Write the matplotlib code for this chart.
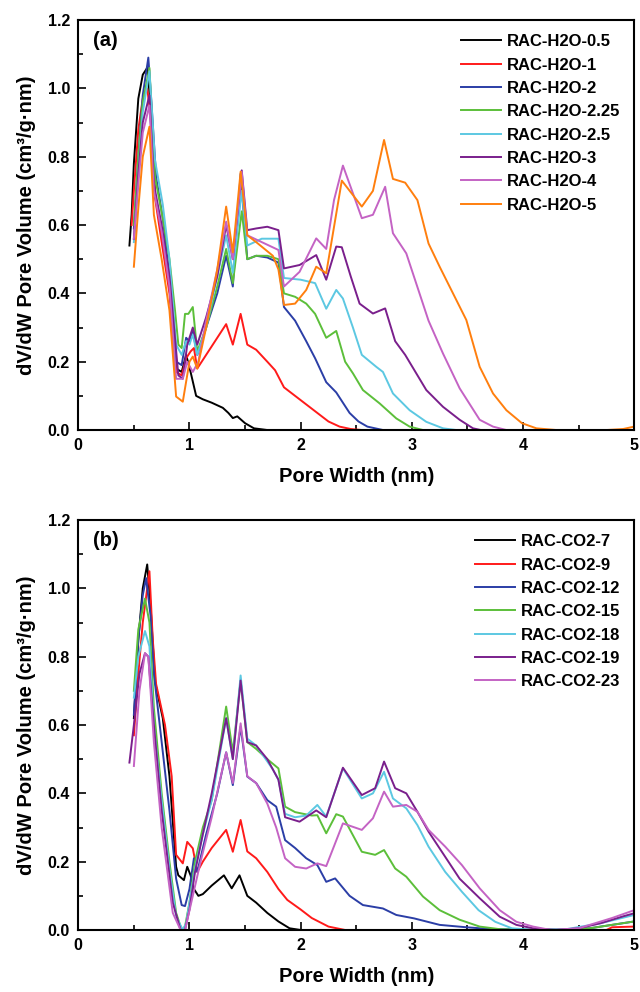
import matplotlib
matplotlib.use("Agg")
import matplotlib.pyplot as plt
from matplotlib.ticker import MultipleLocator

plt.rcParams['font.family'] = ['Liberation Sans', 'DejaVu Sans']
plt.rcParams['font.weight'] = 'bold'

# ---------------- Panel (a) data ----------------
labels_a = ["RAC-H2O-0.5", "RAC-H2O-1", "RAC-H2O-2", "RAC-H2O-2.25",
            "RAC-H2O-2.5", "RAC-H2O-3", "RAC-H2O-4", "RAC-H2O-5"]

a_x_05 = [0.46,0.48,0.5,0.54,0.58,0.62,0.65,0.69,0.75,0.82,0.88,0.93,0.97,1.01,1.06,1.12,1.2,1.3,1.35,1.39,1.43,1.5,1.58,1.7]
a_y_05 = [0.54,0.63,0.78,0.97,1.04,1.06,0.95,0.69,0.58,0.42,0.18,0.17,0.22,0.17,0.10,0.09,0.08,0.065,0.05,0.035,0.04,0.02,0.005,0.0]

a_x_1 = [0.48,0.5,0.54,0.58,0.62,0.65,0.69,0.75,0.82,0.88,0.93,0.97,1.01,1.04,1.07,1.15,1.25,1.33,1.39,1.46,1.52,1.6,1.7,1.77,1.85,1.95,2.05,2.15,2.25,2.35,2.45,2.55]
a_y_1 = [0.60,0.70,0.88,0.97,1.0,0.92,0.68,0.55,0.40,0.17,0.16,0.21,0.23,0.24,0.18,0.22,0.27,0.31,0.25,0.34,0.25,0.235,0.2,0.175,0.125,0.10,0.075,0.05,0.025,0.01,0.003,0.0]

a_x_2 = [0.5,0.54,0.58,0.63,0.66,0.7,0.76,0.82,0.88,0.93,0.97,1.0,1.03,1.07,1.15,1.25,1.33,1.39,1.46,1.52,1.6,1.7,1.8,1.85,1.95,2.05,2.13,2.23,2.32,2.44,2.52,2.6,2.74]
a_y_2 = [0.59,0.8,0.98,1.09,0.95,0.74,0.62,0.45,0.2,0.19,0.27,0.26,0.29,0.22,0.30,0.40,0.51,0.42,0.75,0.5,0.51,0.505,0.49,0.36,0.32,0.26,0.21,0.14,0.11,0.05,0.025,0.01,0.0]

a_x_225 = [0.5,0.54,0.58,0.64,0.69,0.76,0.82,0.87,0.9,0.93,0.96,0.99,1.03,1.07,1.15,1.25,1.33,1.39,1.47,1.52,1.6,1.7,1.8,1.85,1.95,2.05,2.13,2.23,2.32,2.4,2.47,2.56,2.71,2.86,2.98,3.1]
a_y_225 = [0.6,0.8,0.96,1.06,0.74,0.62,0.5,0.35,0.25,0.24,0.34,0.34,0.36,0.23,0.30,0.42,0.53,0.43,0.64,0.5,0.51,0.51,0.5,0.4,0.39,0.37,0.34,0.27,0.29,0.2,0.166,0.117,0.078,0.034,0.01,0.0]

a_x_25 = [0.5,0.54,0.58,0.64,0.69,0.76,0.82,0.88,0.93,0.97,1.0,1.03,1.07,1.15,1.25,1.33,1.39,1.47,1.52,1.65,1.8,1.85,2.0,2.13,2.23,2.32,2.38,2.47,2.55,2.68,2.74,2.83,2.98,3.13,3.28,3.4]
a_y_25 = [0.55,0.75,0.93,1.05,0.79,0.66,0.5,0.25,0.22,0.26,0.25,0.28,0.22,0.30,0.45,0.57,0.46,0.70,0.54,0.56,0.56,0.445,0.44,0.43,0.355,0.41,0.385,0.3,0.22,0.185,0.17,0.107,0.058,0.024,0.005,0.0]

a_x_3 = [0.5,0.54,0.58,0.64,0.68,0.75,0.82,0.9,0.94,0.98,1.03,1.07,1.15,1.25,1.33,1.39,1.47,1.52,1.6,1.7,1.8,1.85,1.99,2.14,2.23,2.32,2.37,2.45,2.53,2.65,2.76,2.85,2.94,3.13,3.28,3.43,3.55,3.62]
a_y_3 = [0.56,0.75,0.9,0.98,0.72,0.6,0.45,0.16,0.15,0.25,0.30,0.25,0.33,0.45,0.6,0.5,0.76,0.585,0.59,0.595,0.585,0.473,0.483,0.512,0.44,0.537,0.535,0.45,0.37,0.341,0.356,0.26,0.22,0.117,0.068,0.03,0.005,0.0]

a_x_4 = [0.5,0.54,0.58,0.64,0.68,0.75,0.82,0.88,0.94,0.98,1.03,1.08,1.15,1.25,1.33,1.39,1.47,1.52,1.65,1.8,1.85,1.99,2.14,2.23,2.3,2.38,2.47,2.55,2.65,2.76,2.83,2.95,3.15,3.28,3.43,3.61,3.73,3.85]
a_y_4 = [0.56,0.72,0.87,0.95,0.7,0.58,0.42,0.15,0.15,0.2,0.17,0.2,0.32,0.47,0.61,0.5,0.756,0.57,0.55,0.527,0.42,0.463,0.561,0.53,0.673,0.774,0.693,0.62,0.63,0.712,0.576,0.517,0.32,0.224,0.122,0.03,0.01,0.0]

a_x_5 = [0.5,0.54,0.58,0.64,0.68,0.75,0.82,0.88,0.94,1.0,1.03,1.07,1.15,1.25,1.33,1.39,1.46,1.52,1.6,1.75,1.8,1.85,1.95,2.05,2.14,2.23,2.37,2.55,2.65,2.75,2.83,2.94,3.05,3.15,3.25,3.37,3.49,3.61,3.73,3.85,3.99,4.12,4.3,4.75,4.9,5.0]
a_y_5 = [0.478,0.65,0.8,0.888,0.63,0.5,0.35,0.098,0.083,0.2,0.215,0.18,0.3,0.47,0.654,0.52,0.756,0.57,0.55,0.51,0.47,0.366,0.37,0.41,0.478,0.459,0.73,0.654,0.70,0.849,0.735,0.724,0.673,0.546,0.478,0.4,0.322,0.185,0.107,0.058,0.02,0.005,0.0,0.0,0.003,0.01]

# ---------------- Panel (b) data ----------------
labels_b = ["RAC-CO2-7", "RAC-CO2-9", "RAC-CO2-12", "RAC-CO2-15",
            "RAC-CO2-18", "RAC-CO2-19", "RAC-CO2-23"]

b_x_7 = [0.5,0.54,0.58,0.62,0.65,0.69,0.76,0.82,0.88,0.9,0.95,0.98,1.01,1.04,1.08,1.12,1.2,1.31,1.38,1.45,1.52,1.6,1.7,1.8,1.9,2.0]
b_y_7 = [0.62,0.85,1.0,1.07,0.95,0.727,0.62,0.45,0.185,0.16,0.146,0.185,0.16,0.12,0.10,0.105,0.13,0.16,0.122,0.16,0.10,0.08,0.05,0.025,0.005,0.0]

b_x_9 = [0.5,0.54,0.58,0.64,0.67,0.7,0.78,0.84,0.88,0.94,0.98,1.03,1.07,1.12,1.2,1.33,1.39,1.46,1.52,1.6,1.7,1.8,1.88,2.0,2.1,2.25,2.4,4.75,4.8,5.0]
b_y_9 = [0.57,0.75,0.9,1.05,0.85,0.72,0.6,0.45,0.22,0.195,0.258,0.239,0.17,0.2,0.24,0.293,0.229,0.322,0.23,0.21,0.17,0.12,0.088,0.06,0.035,0.01,0.0,0.0,0.008,0.01]

b_x_12 = [0.5,0.54,0.58,0.61,0.65,0.68,0.75,0.82,0.88,0.93,0.96,1.0,1.04,1.07,1.15,1.25,1.33,1.39,1.46,1.52,1.6,1.7,1.78,1.86,1.95,2.05,2.15,2.23,2.31,2.44,2.56,2.74,2.86,3.02,3.25,3.49,3.7,4.2,4.6,4.8,5.0]
b_y_12 = [0.63,0.85,0.98,1.03,0.92,0.75,0.55,0.35,0.15,0.073,0.07,0.12,0.21,0.17,0.28,0.40,0.52,0.424,0.595,0.449,0.43,0.38,0.361,0.263,0.24,0.21,0.19,0.141,0.151,0.10,0.073,0.063,0.044,0.034,0.015,0.008,0.003,0.0,0.005,0.015,0.025]

b_x_15 = [0.5,0.54,0.6,0.64,0.68,0.75,0.82,0.88,0.93,0.96,1.0,1.05,1.12,1.2,1.33,1.39,1.46,1.52,1.6,1.7,1.8,1.86,1.95,2.1,2.15,2.23,2.32,2.38,2.55,2.67,2.75,2.85,2.95,3.1,3.25,3.43,3.61,3.8,4.2,4.6,4.8,5.0]
b_y_15 = [0.7,0.88,0.97,0.9,0.65,0.4,0.2,0.05,0.0,0.01,0.08,0.2,0.3,0.38,0.654,0.52,0.73,0.55,0.53,0.5,0.473,0.361,0.345,0.335,0.336,0.283,0.339,0.332,0.229,0.22,0.234,0.18,0.156,0.098,0.058,0.03,0.01,0.002,0.0,0.005,0.015,0.025]

b_x_18 = [0.5,0.54,0.6,0.64,0.68,0.75,0.82,0.88,0.94,0.97,1.0,1.05,1.12,1.2,1.33,1.39,1.46,1.52,1.6,1.75,1.8,1.86,1.95,2.05,2.15,2.23,2.38,2.55,2.65,2.75,2.83,2.95,3.05,3.15,3.3,3.45,3.6,3.75,3.9,4.1,4.4,4.7,5.0]
b_y_18 = [0.68,0.8,0.875,0.83,0.6,0.38,0.18,0.04,0.0,0.02,0.08,0.18,0.28,0.38,0.62,0.5,0.745,0.56,0.54,0.47,0.44,0.34,0.33,0.335,0.366,0.332,0.473,0.385,0.40,0.463,0.385,0.356,0.307,0.244,0.17,0.112,0.058,0.024,0.005,0.0,0.003,0.02,0.044]

b_x_19 = [0.46,0.5,0.55,0.6,0.63,0.68,0.75,0.85,0.92,0.96,1.0,1.05,1.12,1.2,1.33,1.39,1.46,1.52,1.6,1.7,1.8,1.86,1.99,2.14,2.23,2.38,2.55,2.67,2.75,2.85,2.95,3.05,3.15,3.28,3.43,3.61,3.79,3.94,4.09,4.3,4.5,4.7,4.9,5.0]
b_y_19 = [0.49,0.6,0.75,0.81,0.8,0.6,0.35,0.08,0.0,0.0,0.06,0.17,0.28,0.4,0.62,0.5,0.73,0.55,0.54,0.5,0.44,0.33,0.317,0.35,0.33,0.475,0.395,0.415,0.493,0.415,0.40,0.346,0.288,0.224,0.15,0.093,0.039,0.015,0.005,0.0,0.005,0.02,0.04,0.049]

b_x_23 = [0.5,0.55,0.6,0.63,0.68,0.75,0.85,0.92,0.96,1.03,1.1,1.2,1.33,1.39,1.46,1.52,1.6,1.7,1.78,1.86,1.95,2.05,2.15,2.23,2.38,2.55,2.65,2.75,2.83,2.95,3.05,3.15,3.3,3.45,3.61,3.79,3.94,4.09,4.25,4.5,4.8,5.0]
b_y_23 = [0.48,0.7,0.81,0.8,0.55,0.3,0.05,0.0,0.0,0.1,0.2,0.33,0.52,0.43,0.605,0.45,0.43,0.37,0.3,0.21,0.185,0.18,0.195,0.187,0.312,0.293,0.327,0.405,0.361,0.366,0.346,0.293,0.244,0.19,0.122,0.058,0.024,0.01,0.0,0.005,0.035,0.058]

colors_a = ['#000000', '#ff1a1a', '#2b3ea6', '#5cbf3a', '#5cc8e2', '#7a1f8c', '#c463c4', '#ff7f0e']
colors_b = ['#000000', '#ff1a1a', '#2b3ea6', '#5cbf3a', '#5cc8e2', '#7a1f8c', '#c463c4']

series_a = [(a_x_05, a_y_05), (a_x_1, a_y_1), (a_x_2, a_y_2), (a_x_225, a_y_225),
            (a_x_25, a_y_25), (a_x_3, a_y_3), (a_x_4, a_y_4), (a_x_5, a_y_5)]
series_b = [(b_x_7, b_y_7), (b_x_9, b_y_9), (b_x_12, b_y_12), (b_x_15, b_y_15),
            (b_x_18, b_y_18), (b_x_19, b_y_19), (b_x_23, b_y_23)]

fig = plt.figure(figsize=(6.4, 9.92), dpi=100)
ax_a = fig.add_axes([0.1223, 0.5665, 0.8687, 0.4133])
ax_b = fig.add_axes([0.1223, 0.0625, 0.8687, 0.4133])

def style(ax, series, labels, colors, tag):
    for (xs, ys), lab, c in zip(series, labels, colors):
        ax.plot(xs, ys, color=c, lw=1.4, label=lab)
    ax.set_xlim(0, 5)
    ax.set_ylim(0, 1.2)
    ax.xaxis.set_major_locator(MultipleLocator(1))
    ax.xaxis.set_minor_locator(MultipleLocator(0.5))
    ax.yaxis.set_major_locator(MultipleLocator(0.2))
    ax.yaxis.set_minor_locator(MultipleLocator(0.1))
    ax.yaxis.set_major_formatter(matplotlib.ticker.FormatStrFormatter('%.1f'))
    ax.tick_params(which='both', direction='in', top=False, right=False,
                   labelsize=11.5, width=1.2)
    ax.tick_params(which='major', length=6, pad=6)
    ax.tick_params(which='minor', length=3.5)
    for lab in ax.get_xticklabels() + ax.get_yticklabels():
        lab.set_fontweight('bold')
    for sp in ax.spines.values():
        sp.set_linewidth(1.5)
    ax.set_xlabel('Pore Width (nm)', fontsize=14.5, fontweight='bold', labelpad=10)
    ax.set_ylabel('dV/dW Pore Volume (cm³/g·nm)', fontsize=14.5, fontweight='bold', labelpad=8)
    ax.text(0.027, 0.951, tag, transform=ax.transAxes, fontsize=14.5,
            fontweight='bold', va='center', ha='left')
    leg = ax.legend(loc='upper right', frameon=False, fontsize=12,
                    handlelength=2.4, handletextpad=0.35, labelspacing=0.5,
                    borderaxespad=0.4, borderpad=0.45)
    for t in leg.get_texts():
        t.set_fontweight('bold')

style(ax_a, series_a, labels_a, colors_a, '(a)')
style(ax_b, series_b, labels_b, colors_b, '(b)')

fig.savefig('out.png', dpi=100)
